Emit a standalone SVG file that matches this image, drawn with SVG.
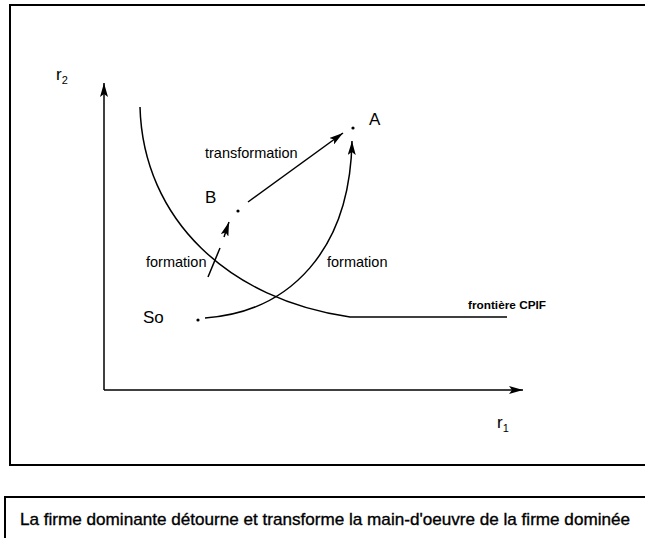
<svg xmlns="http://www.w3.org/2000/svg" width="645" height="538" viewBox="0 0 645 538">
<defs>
<marker id="ah" viewBox="0 0 14 8" refX="14" refY="4" markerWidth="14" markerHeight="8" markerUnits="userSpaceOnUse" orient="auto">
<path d="M0,0 L14,4 L0,8 L3,4 Z" fill="#000"/>
</marker>
</defs>
<style>
.ln{fill:none;stroke:#000;stroke-width:1.5}
.fr{fill:none;stroke:#000;stroke-width:2}
.t{font-family:"Liberation Sans",Arial,sans-serif;fill:#000}
.big{font-size:17px}
.mid{font-size:14.5px}
</style>
<rect id="frame" class="fr" x="10" y="5" width="660" height="460"/>
<rect id="caption-box" class="fr" x="5" y="497" width="660" height="60"/>
<g id="axes">
<line class="ln" x1="104" y1="390" x2="104" y2="83" marker-end="url(#ah)"/>
<line class="ln" x1="104" y1="390" x2="523" y2="390" marker-end="url(#ah)"/>
<text class="t big" x="56" y="80">r<tspan font-size="11" dy="4">2</tspan></text>
<text class="t big" x="497" y="428">r<tspan font-size="11" dy="4">1</tspan></text>
</g>
<g id="frontiere">
<path class="ln" d="M140,107 C143,220 230,300 350,317 L507,317"/>
<text class="t" x="468" y="309" font-size="11.8" font-weight="bold">frontière CPIF</text>
</g>
<g id="So">
<circle cx="198" cy="320" r="1.6" fill="#000"/>
<text class="t big" x="143" y="323">So</text>
</g>
<g id="B">
<circle cx="238" cy="211" r="1.6" fill="#000"/>
<text class="t big" x="205" y="203">B</text>
</g>
<g id="A">
<circle cx="353" cy="128" r="1.6" fill="#000"/>
<text class="t big" x="369" y="125">A</text>
</g>
<g id="connectors">
<path class="ln" d="M205,318 C290,312 350,250 352,141" marker-end="url(#ah)"/>
<line class="ln" x1="248" y1="202" x2="343" y2="133" marker-end="url(#ah)"/>
<line class="ln" x1="208" y1="277" x2="220" y2="248"/>
<line class="ln" x1="224" y1="237" x2="229" y2="222" marker-end="url(#ah)"/>
<text class="t mid" x="205" y="158">transformation</text>
<text class="t mid" x="146" y="267">formation</text>
<text class="t mid" x="327" y="267">formation</text>
</g>
<text id="caption" class="t" x="20" y="525" font-size="17" stroke="#000" stroke-width="0.35" textLength="610" lengthAdjust="spacingAndGlyphs">La firme dominante détourne et transforme la main-d'oeuvre de la firme dominée</text>
</svg>
